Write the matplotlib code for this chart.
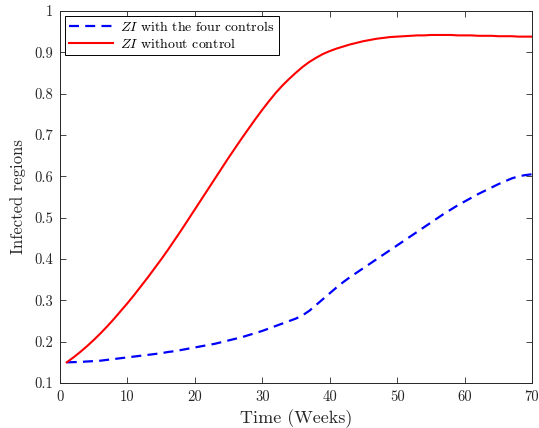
import matplotlib
matplotlib.use('Agg')
import matplotlib.pyplot as plt

plt.rcParams['font.family'] = ['cmr10', 'DejaVu Serif']
plt.rcParams['mathtext.fontset'] = 'cm'
plt.rcParams['axes.unicode_minus'] = False

# weekly fraction of infected regions, weeks 1..70
weeks = list(range(1, 71))
zi_controls = [
    0.150, 0.1505, 0.151, 0.152, 0.153, 0.154, 0.156, 0.158, 0.160, 0.162,
    0.164, 0.166, 0.168, 0.170, 0.172, 0.175, 0.177, 0.180, 0.183, 0.186,
    0.189, 0.192, 0.195, 0.199, 0.203, 0.207, 0.211, 0.216, 0.221, 0.226,
    0.232, 0.238, 0.244, 0.250, 0.256, 0.264, 0.275, 0.289, 0.303, 0.317,
    0.331, 0.344, 0.356, 0.367, 0.378, 0.389, 0.400, 0.411, 0.422, 0.433,
    0.444, 0.455, 0.466, 0.477, 0.488, 0.499, 0.510, 0.520, 0.530, 0.539,
    0.548, 0.557, 0.565, 0.573, 0.581, 0.588, 0.595, 0.600, 0.603, 0.605,
]
zi_no_control = [
    0.150, 0.162, 0.175, 0.189, 0.204, 0.220, 0.237, 0.255, 0.274, 0.293,
    0.313, 0.334, 0.355, 0.377, 0.399, 0.422, 0.446, 0.470, 0.495, 0.520,
    0.545, 0.570, 0.595, 0.620, 0.645, 0.669, 0.693, 0.716, 0.739, 0.761,
    0.782, 0.802, 0.820, 0.836, 0.851, 0.865, 0.877, 0.887, 0.896, 0.903,
    0.909, 0.914, 0.919, 0.923, 0.927, 0.930, 0.933, 0.935, 0.937, 0.938,
    0.939, 0.940, 0.941, 0.941, 0.942, 0.942, 0.942, 0.942, 0.941, 0.941,
    0.941, 0.940, 0.940, 0.940, 0.939, 0.939, 0.939, 0.938, 0.938, 0.938,
]

xticks = [0, 10, 20, 30, 40, 50, 60, 70]
xtick_labels = ['0', '10', '20', '30', '40', '50', '60', '70']
yticks = [0.1, 0.2, 0.3, 0.4, 0.5, 0.6, 0.7, 0.8, 0.9, 1.0]
ytick_labels = ['0.1', '0.2', '0.3', '0.4', '0.5', '0.6', '0.7', '0.8', '0.9', '1']

dark = '#262626'

fig = plt.figure(figsize=(5.39, 4.28), dpi=100)
ax = fig.add_axes([60 / 539, 45 / 428, 472 / 539, 372 / 428])

ax.plot(weeks, zi_controls, color='#0000ff', lw=1.6, linestyle=(0, (4.5, 2.8)),
        label=r'$ZI$ with the four controls')
ax.plot(weeks, zi_no_control, color='#ff0000', lw=1.5,
        label=r'$ZI$ without control')

ax.set_xlim(0, 70)
ax.set_ylim(0.1, 1.0)
ax.set_xticks(xticks)
ax.set_xticklabels(xtick_labels)
ax.set_yticks(yticks)
ax.set_yticklabels(ytick_labels)
ax.tick_params(direction='in', top=True, right=True, length=4, width=0.6,
               labelsize=10.5, colors=dark, pad=5)
for s in ax.spines.values():
    s.set_color(dark)
    s.set_linewidth(0.7)

ax.set_xlabel('Time (Weeks)', fontsize=13, color=dark, labelpad=4)
ax.set_ylabel('Infected regions', fontsize=12, color=dark, labelpad=6)

leg = ax.legend(loc='upper left', fontsize=10, fancybox=False, framealpha=1,
                edgecolor='black', handlelength=3.2, handletextpad=0.5,
                borderaxespad=0.35, labelspacing=0.2, borderpad=0.3)
leg.get_frame().set_linewidth(0.7)

fig.savefig('out.png', dpi=100)
